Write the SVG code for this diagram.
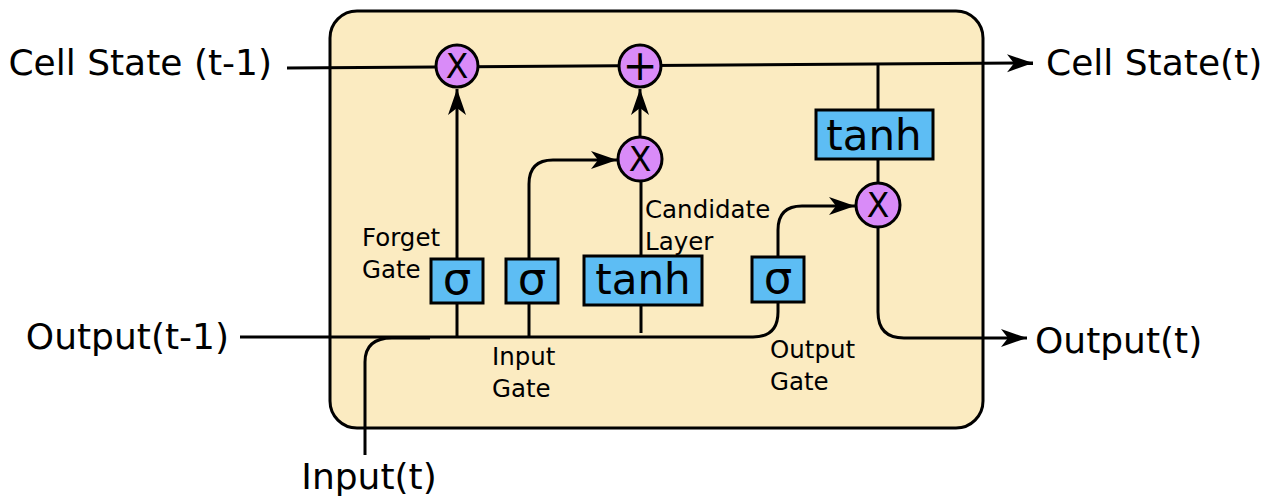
<svg xmlns="http://www.w3.org/2000/svg" width="1270" height="497" viewBox="0 0 1270 497">
<style>
.lbl{font-family:"DejaVu Sans","Verdana",sans-serif;font-size:36px;fill:#000}
.sm{font-family:"DejaVu Sans","Verdana",sans-serif;font-size:24.5px;fill:#000}
.fn{font-family:"DejaVu Sans","Verdana",sans-serif;font-size:42px;fill:#000;text-anchor:middle}
.op{font-family:"DejaVu Sans","Verdana",sans-serif;font-size:33px;fill:#000;text-anchor:middle}
.box{fill:#5dbdf4;stroke:#000;stroke-width:3}
.circ{fill:#d98bf8;stroke:#000;stroke-width:3}
.ln{fill:none;stroke:#000;stroke-width:3}
</style>
<defs>
<marker id="ah" markerUnits="userSpaceOnUse" markerWidth="28" markerHeight="20" refX="26" refY="10" orient="auto" viewBox="0 0 28 20">
<path d="M0,1 L26,10 L0,19 L7,10 z" fill="#000"/>
</marker>
</defs>
<rect id="cell" x="330" y="11" width="653" height="417" rx="27" ry="27" fill="#fbebc1" stroke="#000" stroke-width="3"/>
<g id="connectors">
<path class="ln" d="M287,68 L1033,63" marker-end="url(#ah)"/>
<path class="ln" d="M457,259 L457,89" marker-end="url(#ah)"/>
<path class="ln" d="M640,137 L640,89" marker-end="url(#ah)"/>
<path class="ln" d="M641,256 L641,181"/>
<path class="ln" d="M529,259 L529,184 Q529,160 553,160 L617,160" marker-end="url(#ah)"/>
<path class="ln" d="M778,257 L778,230 Q778,206 802,206 L855,206" marker-end="url(#ah)"/>
<path class="ln" d="M778,302 L778,312 Q778,337 753,337 L240,337"/>
<path class="ln" d="M365,455 L365,362 Q365,338 392,338 L430,338"/>
<path class="ln" d="M457,303 L457,337 M529,303 L529,337 M641,305 L641,333"/>
<path class="ln" d="M878,64 L878,110 M878,159 L878,183"/>
<path class="ln" d="M878,227 L878,312 Q878,338 904,338 L1027,338" marker-end="url(#ah)"/>
</g>
<g id="forget-mul"><circle class="circ" cx="457" cy="66" r="21"/><text class="op" x="457" y="78">X</text></g>
<g id="add"><circle class="circ" cx="640" cy="66" r="21"/><text class="op" x="640" y="80" style="font-size:42px">+</text></g>
<g id="input-mul"><circle class="circ" cx="640" cy="159" r="22"/><text class="op" x="640" y="171">X</text></g>
<g id="output-mul"><circle class="circ" cx="878" cy="205" r="22"/><text class="op" x="878" y="217">X</text></g>
<g id="forget-gate"><rect class="box" x="431" y="259" width="52" height="44"/><text class="fn" x="457" y="294" style="font-size:45px">σ</text></g>
<g id="input-gate"><rect class="box" x="506" y="259" width="52" height="44"/><text class="fn" x="532" y="294" style="font-size:45px">σ</text></g>
<g id="candidate"><rect class="box" x="584" y="256" width="118" height="49"/><text class="fn" x="643" y="294">tanh</text></g>
<g id="output-gate"><rect class="box" x="752" y="257" width="52" height="45"/><text class="fn" x="778" y="293" style="font-size:45px">σ</text></g>
<g id="tanh-out"><rect class="box" x="816" y="110" width="117" height="49"/><text class="fn" x="874" y="150">tanh</text></g>
<g id="labels">
<text class="lbl" x="272" y="75" text-anchor="end">Cell State (t-1)</text>
<text class="lbl" x="1046" y="75">Cell State(t)</text>
<text class="lbl" x="229" y="349" text-anchor="end">Output(t-1)</text>
<text class="lbl" x="1035" y="353">Output(t)</text>
<text class="lbl" x="369" y="489" text-anchor="middle">Input(t)</text>
<text class="sm" x="362" y="246">Forget</text>
<text class="sm" x="362" y="278">Gate</text>
<text class="sm" x="492" y="365">Input</text>
<text class="sm" x="492" y="397">Gate</text>
<text class="sm" x="645" y="218">Candidate</text>
<text class="sm" x="645" y="250">Layer</text>
<text class="sm" x="770" y="358">Output</text>
<text class="sm" x="770" y="390">Gate</text>
</g>
</svg>
